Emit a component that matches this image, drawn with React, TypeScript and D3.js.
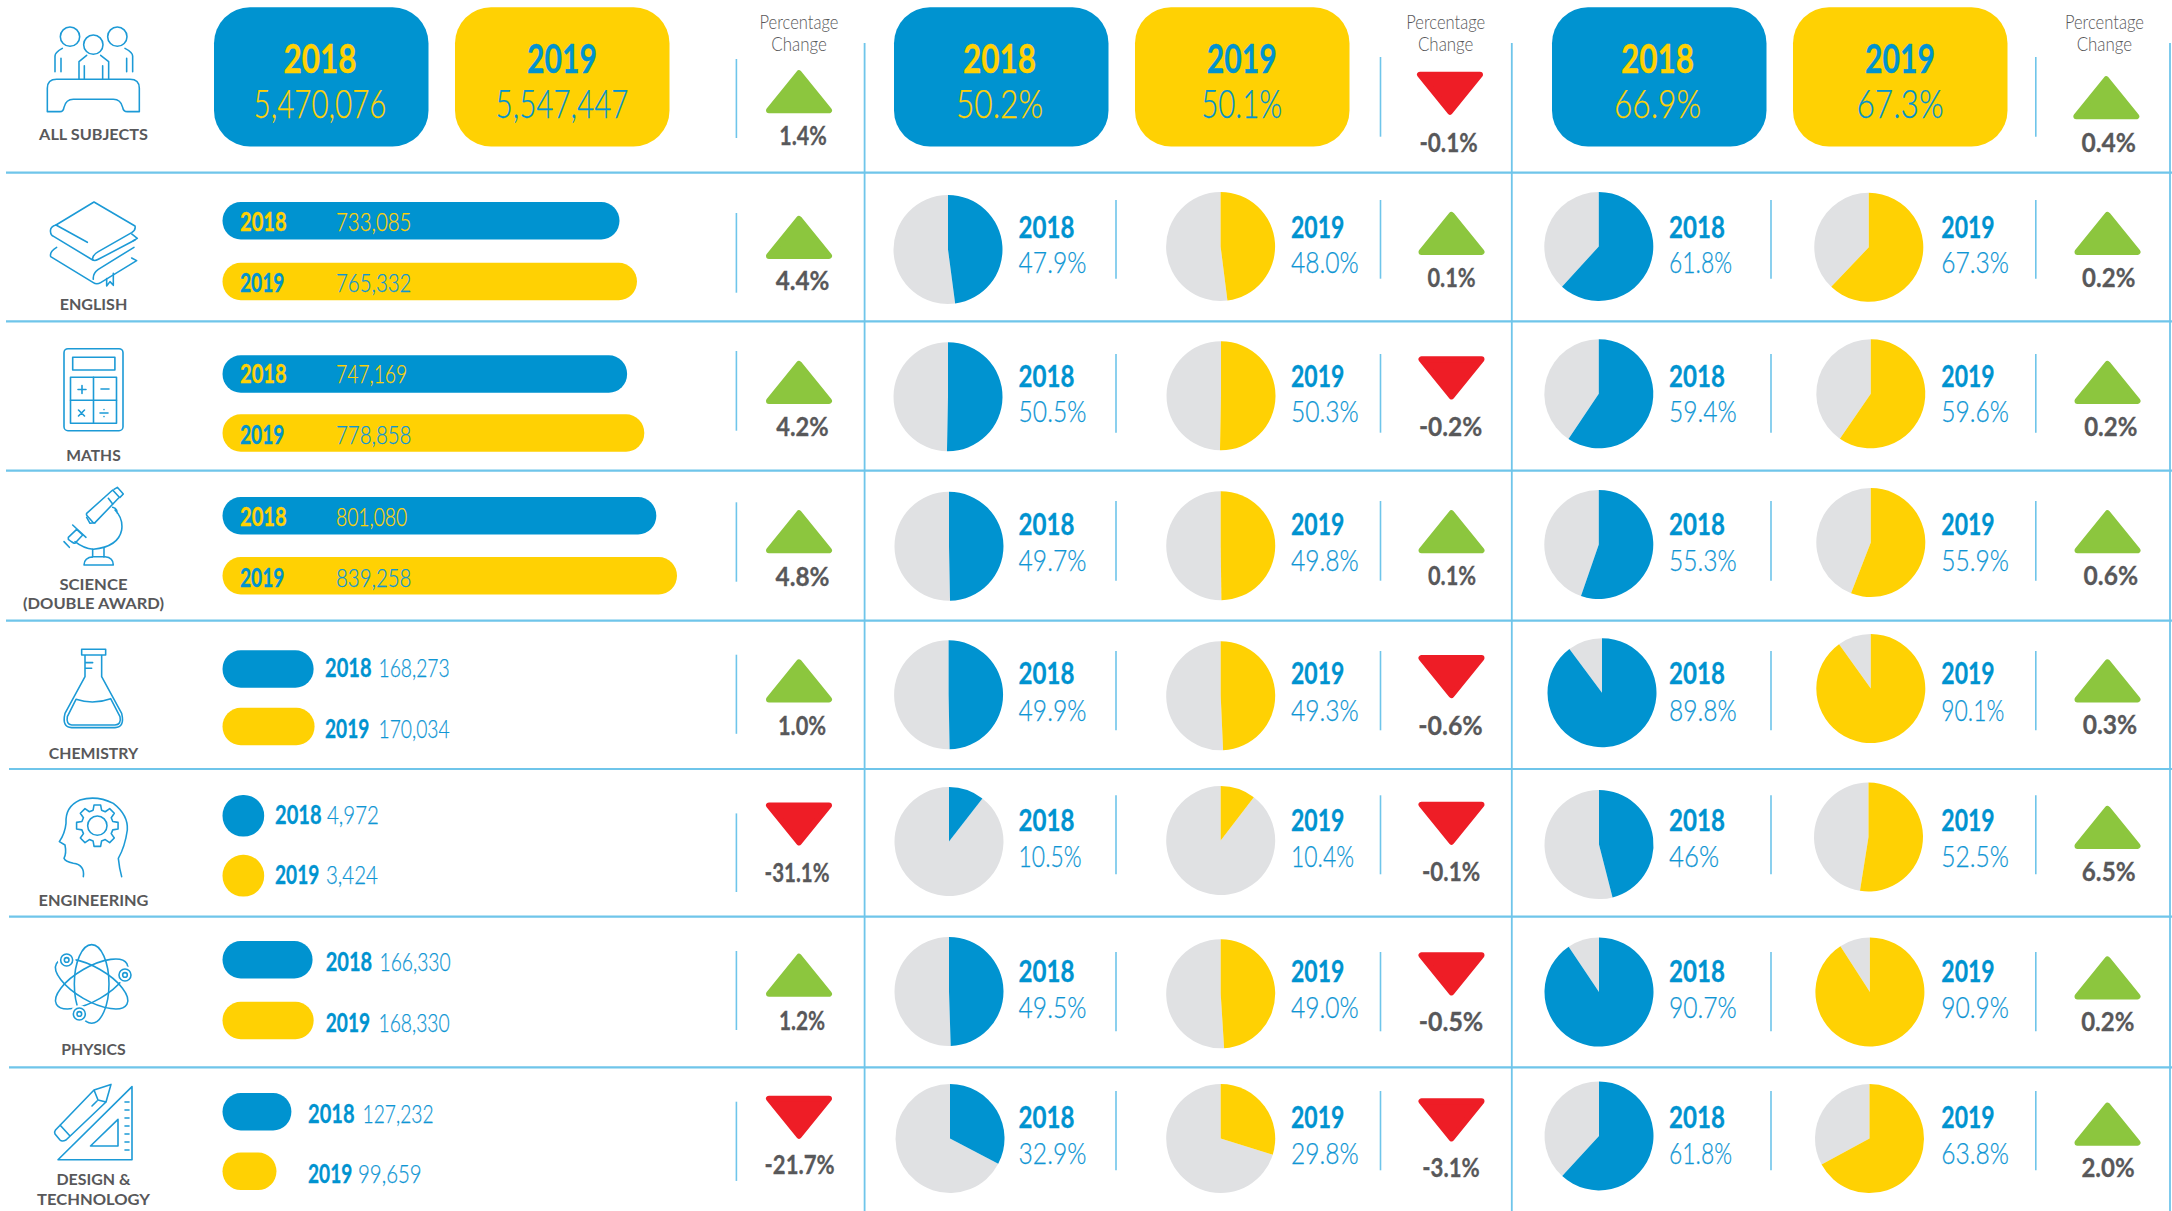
import React from "react";
import * as d3 from "d3";

// ---------- data ----------
const years = ["2018", "2019"];
const subjects = ["ENGLISH", "MATHS", "SCIENCE", "CHEMISTRY", "ENGINEERING", "PHYSICS", "DESIGN"];
const entries2018 = [733085, 747169, 801080, 168273, 4972, 166330, 127232];
const entries2019 = [765332, 778858, 839258, 170034, 3424, 168330, 99659];
const entryChange = ["4.4%", "4.2%", "4.8%", "1.0%", "-31.1%", "1.2%", "-21.7%"];
const midLabels2018 = ["47.9%", "50.5%", "49.7%", "49.9%", "10.5%", "49.5%", "32.9%"];
const midLabels2019 = ["48.0%", "50.3%", "49.8%", "49.3%", "10.4%", "49.0%", "29.8%"];
const midShare2018 = [47.9, 50.3, 49.7, 49.7, 10.5, 49.5, 32.7];
const midShare2019 = [48.0, 50.3, 49.8, 49.3, 10.4, 49.0, 29.8];
const midChange = ["0.1%", "-0.2%", "0.1%", "-0.6%", "-0.1%", "-0.5%", "-3.1%"];
const topLabels2018 = ["61.8%", "59.4%", "55.3%", "89.8%", "46%", "90.7%", "61.8%"];
const topLabels2019 = ["67.3%", "59.6%", "55.9%", "90.1%", "52.5%", "90.9%", "63.8%"];
const topShare2018 = [61.8, 59.4, 55.3, 89.8, 46, 90.6, 61.8];
const topShare2019 = [62.1, 59.6, 55.9, 90.1, 52.5, 90.9, 67.1];
const topChange = ["0.2%", "0.2%", "0.6%", "0.3%", "6.5%", "0.2%", "2.0%"];
const summaryValues = [
  ["5,470,076", "5,547,447", "1.4%"],
  ["50.2%", "50.1%", "-0.1%"],
  ["66.9%", "67.3%", "0.4%"],
];

// ---------- colours ----------
const BLUE = "#0093d0";
const YELLOW = "#ffd103";
const GREY_PIE = "#e0e1e3";
const GREEN = "#8cc63e";
const RED = "#ee1d26";
const INK = "#58585a";
const RULE = "#6fc5ea";
const ICON = "#1c9ad6";
const LIGHT_BLUE = "#0f96d4";

// ---------- layout ----------
const W = 2172;
const H = 1211;
const hRules = [172.7, 321.3, 470.7, 620.7, 769, 916.6, 1067.4];
const vRules = [864.6, 1511.8, 2170];
const boxColumns = [[214, 455], [894, 1135], [1552, 1793]];
const boxCentres = [[320, 562], [999.5, 1241.7], [1657.5, 1900]];
const headerCentres = [799, 1445.7, 2104.4];
const rowDividers = [[213, 292.7], [351, 430.7], [502.3, 581.7], [654.7, 733.8], [813.4, 892], [951, 1030], [1101.7, 1180.9]];
const midDividers = [[200, 278.7], [354, 432.7], [501, 580.7], [651, 730.3], [795.3, 874.3], [952, 1031.3], [1091, 1170.3]];
const barTops18 = [202, 355.3, 497, 650.2, 794.9, 941, 1093];
const barTops19 = [262.7, 414.3, 557, 707.8, 854.8, 1001.8, 1152.6];
const barText18 = [230, 381.7, 525, 676.5, 823.5, 969.8, 1122.5];
const barText19 = [290.7, 443.3, 586, 737.2, 883.5, 1030.9, 1182.4];
const barLabelX = [240, 240, 240, 325, 275, 325.7, 308];
const barValueX18 = [336, 336, 336, 378.5, 327, 379.5, 362.5];
const barValueX19 = [336, 336, 336, 378.5, 326, 378.5, 358];
const pieBase1 = [236.7, 386, 534.3, 683.3, 830.5, 981.5, 1127.5];
const pieBase2 = [271.7, 421, 570.5, 720, 866, 1017, 1162.8];
const midPie1 = { cx: [948, 948, 949, 948.6, 949, 949, 950], cy: [249.5, 396.7, 546.3, 694.8, 841.5, 991.5, 1138.5] };
const midPie2 = { cx: [1220.6, 1221, 1220.7, 1220.7, 1220.7, 1220.7, 1220.7], cy: [246.5, 395.7, 545.7, 695.8, 840.5, 993.8, 1138.5] };
const topPie1 = { cx: [1598.8, 1598.8, 1598.8, 1602, 1599, 1599, 1599], cy: [246.5, 393.8, 544.5, 692.7, 844.6, 992, 1135.9] };
const topPie2 = { cx: [1868.8, 1870.8, 1870.8, 1870.8, 1868.5, 1869.9, 1869.5], cy: [247.3, 393.8, 542.5, 688.6, 837, 992, 1138.6] };
const triangles = [
  { cx: 799, tops: [215, 360, 509.3, 658.4, 802.4, 952.8, 1095.7], labelX: [802.5, 802.5, 802.5, 802, 797, 802, 799.6], base: [289, 435, 585, 733.8, 880.8, 1028.6, 1173.3] },
  { cx: 1451.5, tops: [211, 356.3, 509.3, 655, 801.7, 952.3, 1098.3], labelX: [1451.5, 1450.6, 1452, 1450.5, 1451, 1451, 1451], base: [286, 434.7, 584.3, 734, 880, 1030, 1176] },
  { cx: 2107.5, tops: [211, 360, 509.3, 658.4, 805, 955.5, 1101.7], labelX: [2108.7, 2110.8, 2110.8, 2110, 2108.7, 2107.8, 2108], base: [286, 435, 584.3, 733.5, 880, 1030, 1176.4] },
];
const summaryTriangles = [
  { cx: 799, top: 69.3, labelX: 803, base: 144.3 },
  { cx: 1450, top: 71.7, labelX: 1448.5, base: 150.7 },
  { cx: 2106.3, top: 75.3, labelX: 2108.7, base: 150.7 },
];
const subjectText = [
  { t: "ALL SUBJECTS", y: 140, w: 108.8 },
  { t: "ENGLISH", y: 310, w: 67.7 },
  { t: "MATHS", y: 460.7, w: 54.4 },
  { t: "SCIENCE", y: 590, w: 68 },
  { t: "(DOUBLE AWARD)", y: 609, w: 141 },
  { t: "CHEMISTRY", y: 758.5, w: 89.3 },
  { t: "ENGINEERING", y: 905.5, w: 110 },
  { t: "PHYSICS", y: 1055.4, w: 64.4 },
  { t: "DESIGN &", y: 1185.4, w: 74 },
  { t: "TECHNOLOGY", y: 1205, w: 113 },
];

// ---------- scales and shapes ----------
const barWidth = d3.scaleLinear().domain([0, 839258]).range([0, 454.5]);
const MIN_BAR = 41.7;
const BAR_H = 37.5;
const PIE_R = 54.5;
const pieLayout = d3.pie<number>().sort(null).value((d) => d);
const arc = d3.arc<d3.PieArcDatum<number>>().innerRadius(0).outerRadius(PIE_R);
const triLine = d3.line<[number, number]>();

// ---------- text ----------
const FONT = "Lato, 'Noto Sans', sans-serif";
const BASE_DY = 0.9;
const lightEm: Record<string, number> = { "1": 0.3, ".": 0.16, ",": 0.2, "%": 0.85 };
const boldEm: Record<string, number> = { "2": 0.5, "0": 0.58, "1": 0.3, "8": 0.56, "9": 0.47, ".": 0.2, "%": 0.85, "-": 0.4 };
const em = (s: string, tbl: Record<string, number>, dflt: number) =>
  Array.from(s).reduce((a, c) => a + (tbl[c] ?? dflt), 0);

function Light({ x, y, s, size, fill, anchor = "start", k = 1 }: any) {
  return (
    <text x={x} y={y + BASE_DY} fontFamily={FONT} fontWeight={300} fontSize={size * 1.07} fill={fill} stroke={fill} strokeWidth={0.25} textAnchor={anchor}
      textLength={em(s, lightEm, 0.47) * size * k} lengthAdjust="spacingAndGlyphs">{s}</text>
  );
}
function Bold({ x, y, s, size, fill, anchor = "start", k = 1 }: any) {
  return (
    <text x={x} y={y + BASE_DY} fontFamily={FONT} fontWeight={700} fontSize={size * 1.07} fill={fill} stroke={fill} strokeWidth={0.3} textAnchor={anchor}
      textLength={em(s, boldEm, 0.55) * size * k} lengthAdjust="spacingAndGlyphs">{s}</text>
  );
}

function Pie({ cx, cy, v, color }: any) {
  const [a, b] = pieLayout([v, 100 - v]);
  return (
    <g transform={`translate(${cx},${cy})`}>
      <path d={arc(b) as string} fill={GREY_PIE} />
      <path d={arc(a) as string} fill={color} />
    </g>
  );
}

function Triangle({ cx, top, up }: any) {
  const hw = 30, h = 44, r = 3;
  const pts: [number, number][] = up
    ? [[cx, top + r + 1], [cx + hw, top + h - r], [cx - hw, top + h - r]]
    : [[cx - hw, top + r], [cx + hw, top + r], [cx, top + h - r - 1]];
  const c = up ? GREEN : RED;
  return <path d={triLine(pts) + "Z"} fill={c} stroke={c} strokeWidth={r * 2} strokeLinejoin="round" />;
}

function Bar({ x, top, v, color }: any) {
  const raw = barWidth(v);
  const small = raw < MIN_BAR;
  const w = small ? MIN_BAR : raw;
  const h = small ? MIN_BAR : BAR_H;
  return <rect x={x} y={top} width={w} height={h} rx={h / 2 - 0.5} ry={h / 2} fill={color} />;
}

// ---------- icons ----------
const gear = () => {
  const n = 8;
  const pts: [number, number][] = [];
  d3.range(n).forEach((i) => {
    const a = (i * 2 * Math.PI) / n;
    const st = (2 * Math.PI) / n;
    pts.push([a - st * 0.34, 48], [a - st * 0.2, 63], [a + st * 0.2, 63], [a + st * 0.34, 48]);
  });
  return d3.lineRadial().curve(d3.curveLinearClosed)(pts as any) as string;
};

function Icons() {
  const s = { fill: "none", stroke: ICON, strokeLinecap: "round", strokeLinejoin: "round" } as any;
  const z = 4.7;
  return (
    <g {...s}>
      {/* all subjects */}
      <g transform="translate(30,10) scale(0.3333)" strokeWidth={z}>
        <circle cx={120} cy={80} r={29} /><circle cx={190} cy={104} r={29} /><circle cx={262} cy={80} r={29} />
        <path d="M75 185V138Q75 127 97 115M93 185V145M308 185V138Q308 127 285 115M290 185V145" />
        <path d="M147 208V155L170 136M236 208V155L212 136M163 208V167M218 208V167" />
        <path d="M52 305V235Q52 208 80 208H300Q328 208 328 235V305H292Q280 305 278 292Q272 268 250 268H130Q108 268 102 292Q100 305 90 305Z" />
      </g>
      {/* english */}
      <g transform="translate(30,10) scale(0.3333)" strokeWidth={z}>
        <path d="M78 645L192 576L315 648Q318 660 305 668L205 725Q186 736 188 748Q192 755 205 748L315 690" />
        <path d="M78 645Q58 650 62 668Q62 675 72 680L188 750M78 645L172 697" />
        <path d="M80 712Q58 725 62 740L190 818Q200 825 212 818L320 752L305 744M305 672L322 685L310 692" />
        <path d="M312 712L205 778Q188 790 190 808M230 806V828L240 815L250 826V790" />
      </g>
      {/* maths */}
      <g strokeWidth={1.6}>
        <rect x={64} y={348.7} width={59} height={82} rx={4} />
        <rect x={72.7} y={357.3} width={42.2} height={12.7} />
        <rect x={70.5} y={377.3} width={46} height={46} />
        <path d="M93.5 377.3V423.3M70.5 400.3H116.5M78 389.5H86M82 385.5V393.5M101 389H109M78.5 410L84.5 416M84.5 410L78.5 416M100 413H108M104 409.5V409.6M104 416.5V416.6" />
      </g>
      {/* science */}
      <g transform="translate(40,480) scale(0.3333)" strokeWidth={z}>
        <path d="M140 100L218 30L238 52L165 128Q160 130 158 126L142 108Q138 104 140 100Z" />
        <path d="M222 28L232 22L250 42L240 52M140 112L150 130L165 128M205 55L218 72" />
        <path d="M218 82Q232 85 232 100M225 90Q250 115 245 150Q235 200 160 208Q130 205 105 185" />
        <path d="M98 135L138 172M85 172L110 148L128 165L105 190Q100 190 85 178ZM72 185L88 202" />
        <path d="M158 208V232M192 205V232M132 255Q132 232 160 230H195Q220 232 220 255Z" />
      </g>
      {/* chemistry */}
      <g transform="translate(40,480) scale(0.3333)" strokeWidth={z}>
        <path d="M125 508H197V525H125ZM135 525V590L75 700Q65 742 95 743H225Q255 742 245 700L185 590V525M135 548H158M135 565H155" />
        <path d="M108 658Q160 675 212 656L240 710Q245 734 225 735H95Q78 734 82 710Z" />
      </g>
      {/* engineering */}
      <g transform="translate(40,790) scale(0.3333)" strokeWidth={z}>
        <path d="M130 260Q135 225 100 220Q75 215 72 205Q80 190 75 165L58 155Q75 130 78 100Q75 50 120 30Q170 15 220 40Q265 75 262 120Q255 170 235 205Q238 235 245 260" />
        <circle cx={172} cy={107} r={29} />
        <path transform="translate(172,107)" d={gear()} />
      </g>
      {/* physics */}
      <g transform="translate(40,790) scale(0.3333)" strokeWidth={z}>
        <ellipse cx={155} cy={582} rx={52} ry={118} />
        <ellipse cx={155} cy={582} rx={122} ry={50} transform="rotate(30 155 582)" />
        <ellipse cx={155} cy={582} rx={122} ry={50} transform="rotate(-30 155 582)" />
        {[[80, 510], [255, 555], [118, 672]].map(([x, y]) => (
          <g key={x}>
            <circle cx={x} cy={y} r={27} fill="#fff" stroke="none" />
            <circle cx={x} cy={y} r={18} /><circle cx={x} cy={y} r={7} />
          </g>
        ))}
      </g>
      {/* design */}
      <g strokeWidth={1.6}>
        <path d="M132 1086.6V1159.8H58ZM118 1119.4V1146H90.5Z" />
        <path d="M55.5 1130L94 1090L111 1084.4L106 1102L66 1140Q62 1142 60 1140L55 1134Q54 1132 55.5 1130ZM60 1125L70 1136M94 1090L98 1100L106 1102M92 1106L97 1101" />
        <path d="M125 1102H129M125 1110H129M125 1118H129M125 1126H129M125 1134H129M125 1142H129M125 1150H129" />
      </g>
    </g>
  );
}

export default function App() {
  const idx = d3.range(subjects.length);
  return (
    <svg width={W} height={H} viewBox={`0 0 ${W} ${H}`} style={{ position: "absolute", left: 0, top: 0, display: "block", background: "#fff" }}>
      {/* rules */}
      {hRules.map((y, i) => (
        <line key={y} x1={i < 4 ? 6 : 9} x2={W} y1={y} y2={y} stroke={RULE} strokeWidth={2.2} />
      ))}
      {vRules.map((x) => (
        <line key={x} x1={x} x2={x} y1={43} y2={H} stroke={RULE} strokeWidth={1.8} />
      ))}

      <Icons />
      {subjectText.map((d) => (
        <text key={d.t} x={93.5} y={d.y} textAnchor="middle" fontFamily={FONT} fontWeight={700} fontSize={15.5}
          fill={INK} textLength={d.w} lengthAdjust="spacingAndGlyphs">{d.t}</text>
      ))}

      {/* summary row */}
      {boxColumns.map((col, c) => (
        <g key={c}>
          {col.map((x, j) => (
            <g key={x}>
              <rect x={x} y={7.2} width={214.5} height={139.3} rx={36} fill={j === 0 ? BLUE : YELLOW} />
              <Bold x={boxCentres[c][j]} y={71.7} s={years[j]} size={37} anchor="middle" k={1.02}
                fill={j === 0 ? YELLOW : BLUE} />
              <Light x={boxCentres[c][j]} y={116.7} s={summaryValues[c][j]} size={36} anchor="middle"
                fill={j === 0 ? YELLOW : BLUE} />
            </g>
          ))}
          <text x={headerCentres[c]} y={28.5} textAnchor="middle" fontFamily={FONT} fontWeight={300} fontSize={19.5} fill={INK}
            textLength={79} lengthAdjust="spacingAndGlyphs">Percentage</text>
          <text x={headerCentres[c]} y={50.7} textAnchor="middle" fontFamily={FONT} fontWeight={300} fontSize={19.5} fill={INK}
            textLength={55.5} lengthAdjust="spacingAndGlyphs">Change</text>
          <Triangle cx={summaryTriangles[c].cx} top={summaryTriangles[c].top} up={!summaryValues[c][2].startsWith("-")} />
          <Bold x={summaryTriangles[c].labelX} y={summaryTriangles[c].base} s={summaryValues[c][2]} size={25} anchor="middle" fill={INK} />
        </g>
      ))}
      <line x1={736.4} x2={736.4} y1={59} y2={138} stroke={RULE} strokeWidth={1.6} />
      <line x1={1380.5} x2={1380.5} y1={57} y2={136.7} stroke={RULE} strokeWidth={1.6} />
      <line x1={2035.8} x2={2035.8} y1={57} y2={136.7} stroke={RULE} strokeWidth={1.6} />

      {/* subject rows */}
      {idx.map((i) => {
        const big = barWidth(entries2018[i]) > 200;
        const f = d3.format(",");
        return (
          <g key={subjects[i]}>
            <Bar x={222.5} top={barTops18[i]} v={entries2018[i]} color={BLUE} />
            <Bar x={222.5} top={barTops19[i]} v={entries2019[i]} color={YELLOW} />
            <Bold x={barLabelX[i]} y={barText18[i]} s={years[0]} size={24} fill={big ? YELLOW : BLUE} />
            <Bold x={barLabelX[i]} y={barText19[i]} s={years[1]} size={24} fill={BLUE} />
            <Light x={barValueX18[i]} y={barText18[i]} s={f(entries2018[i])} size={24} k={1.04} fill={big ? YELLOW : LIGHT_BLUE} />
            <Light x={barValueX19[i]} y={barText19[i]} s={f(entries2019[i])} size={24} k={1.04} fill={LIGHT_BLUE} />

            <line x1={736.4} x2={736.4} y1={rowDividers[i][0]} y2={rowDividers[i][1]} stroke={RULE} strokeWidth={1.6} />
            {[1116, 1380.5, 1771, 2035.8].map((x) => (
              <line key={x} x1={x} x2={x} y1={midDividers[i][0]} y2={midDividers[i][1]} stroke={RULE} strokeWidth={1.6} />
            ))}

            <Pie cx={midPie1.cx[i]} cy={midPie1.cy[i]} v={midShare2018[i]} color={BLUE} />
            <Pie cx={midPie2.cx[i]} cy={midPie2.cy[i]} v={midShare2019[i]} color={YELLOW} />
            <Pie cx={topPie1.cx[i]} cy={topPie1.cy[i]} v={topShare2018[i]} color={BLUE} />
            <Pie cx={topPie2.cx[i]} cy={topPie2.cy[i]} v={topShare2019[i]} color={YELLOW} />

            <Bold x={1018.6} y={pieBase1[i]} s={years[0]} size={28} k={1.03} fill={BLUE} />
            <Light x={1018.6} y={pieBase2[i]} s={midLabels2018[i]} size={28} fill={LIGHT_BLUE} />
            <Bold x={1291} y={pieBase1[i]} s={years[1]} size={28} k={1.03} fill={BLUE} />
            <Light x={1291} y={pieBase2[i]} s={midLabels2019[i]} size={28} fill={LIGHT_BLUE} />
            <Bold x={1669} y={pieBase1[i]} s={years[0]} size={28} k={1.03} fill={BLUE} />
            <Light x={1669} y={pieBase2[i]} s={topLabels2018[i]} size={28} fill={LIGHT_BLUE} />
            <Bold x={1941.3} y={pieBase1[i]} s={years[1]} size={28} k={1.03} fill={BLUE} />
            <Light x={1941.3} y={pieBase2[i]} s={topLabels2019[i]} size={28} fill={LIGHT_BLUE} />

            {[entryChange, midChange, topChange].map((vals, c) => (
              <g key={c}>
                <Triangle cx={triangles[c].cx} top={triangles[c].tops[i]} up={!vals[i].startsWith("-")} />
                <Bold x={triangles[c].labelX[i]} y={triangles[c].base[i]} s={vals[i]} size={25} anchor="middle" fill={INK} />
              </g>
            ))}
          </g>
        );
      })}
    </svg>
  );
}
